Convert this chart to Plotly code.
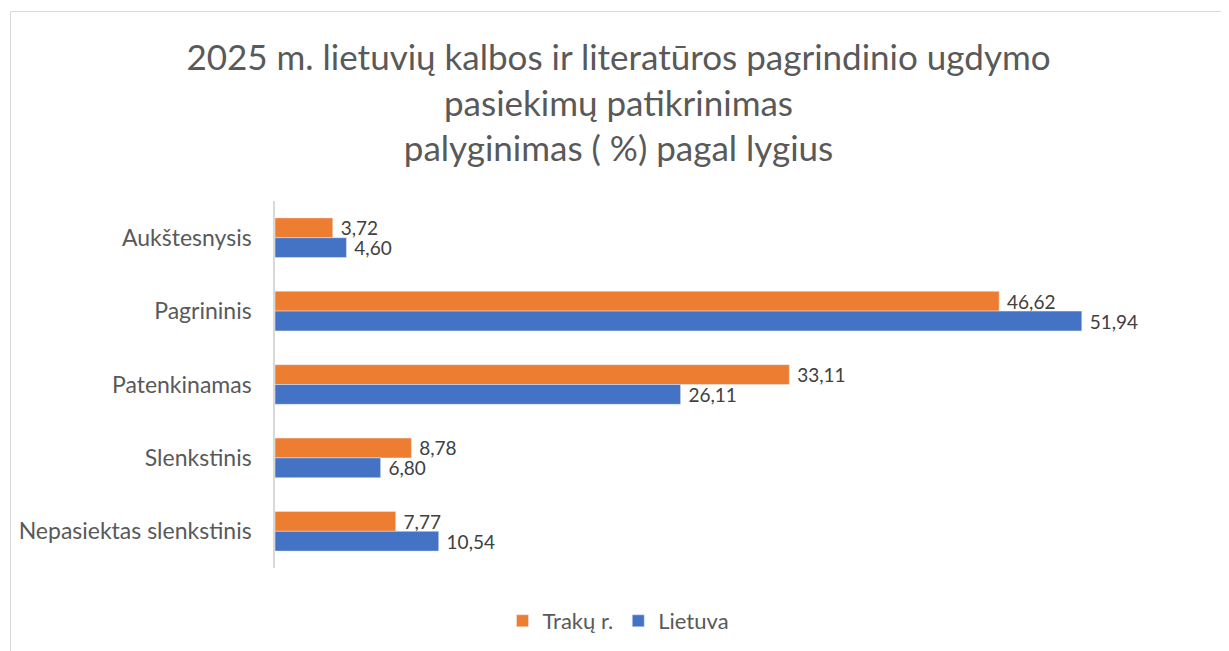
import plotly.graph_objects as go

categories = ["Aukštesnysis", "Pagrininis", "Patenkinamas", "Slenkstinis", "Nepasiektas slenkstinis"]
trakai = [3.72, 46.62, 33.11, 8.78, 7.77]
lietuva = [4.60, 51.94, 26.11, 6.80, 10.54]
series_names = ["Trakų r.", "Lietuva"]
title_text = "2025 m. lietuvių kalbos ir literatūros pagrindinio ugdymo<br>pasiekimų patikrinimas<br>palyginimas ( %) pagal lygius"

def fmt(v):
    return " " + f"{v:.2f}".replace(".", ",")

# page body has an 8px margin, so the figure is 8px smaller than the window
OFF = 8
W, H = 1229 - OFF, 651 - OFF
L, R, T, B = 275 - OFF, 1229 - 1207, 201 - OFF, 651 - 568
pw = W - L - R
ph = H - T - B

FONT = "Lato"
fig = go.Figure()
fig.add_trace(go.Bar(
    y=categories, x=trakai, name=series_names[0], orientation="h",
    marker_color="#ED7D31", text=[fmt(v) for v in trakai], textposition="outside",
    constraintext="none",
    textfont=dict(size=19, color="#404040", family=FONT), cliponaxis=False,
))
fig.add_trace(go.Bar(
    y=categories, x=lietuva, name=series_names[1], orientation="h",
    marker_color="#4472C4", text=[fmt(v) for v in lietuva], textposition="outside",
    constraintext="none",
    textfont=dict(size=19, color="#404040", family=FONT), cliponaxis=False,
))

def px_x(p):
    return (p - OFF - L) / pw

def px_y(p):
    return (H - B - (p - OFF)) / ph

fig.update_layout(
    width=W, height=H,
    margin=dict(l=L, r=R, t=T, b=B),
    paper_bgcolor="white", plot_bgcolor="white",
    barmode="group", bargap=0.46, bargroupgap=0,
    font=dict(family=FONT, color="#595959"),
    title=dict(text=title_text, x=0.5, xanchor="center", xref="container",
               y=1 - 62 / H, yanchor="top", yref="container",
               font=dict(size=35, color="#595959", family=FONT)),
    xaxis=dict(range=[0, 60], showgrid=False, showticklabels=False, zeroline=False,
               showline=False, ticks=""),
    yaxis=dict(autorange="reversed", showgrid=False, showline=True, linecolor="#d9d9d9",
               linewidth=1.5, ticks="", ticklabelstandoff=17,
               tickfont=dict(size=23, color="#595959", family=FONT)),
    legend=dict(orientation="h", x=0.5, xref="container", xanchor="center",
                y=1 - (621 - OFF) / H, yref="container", yanchor="middle",
                font=dict(size=22, color="#595959", family=FONT), traceorder="normal"),
    shapes=[dict(type="rect", xref="paper", yref="paper",
                 x0=px_x(10.5), x1=px_x(1240), y0=px_y(660), y1=px_y(11.5),
                 line=dict(color="#d9d9d9", width=1), fillcolor="rgba(0,0,0,0)", layer="below")],
)

fig.write_html("out.html")
